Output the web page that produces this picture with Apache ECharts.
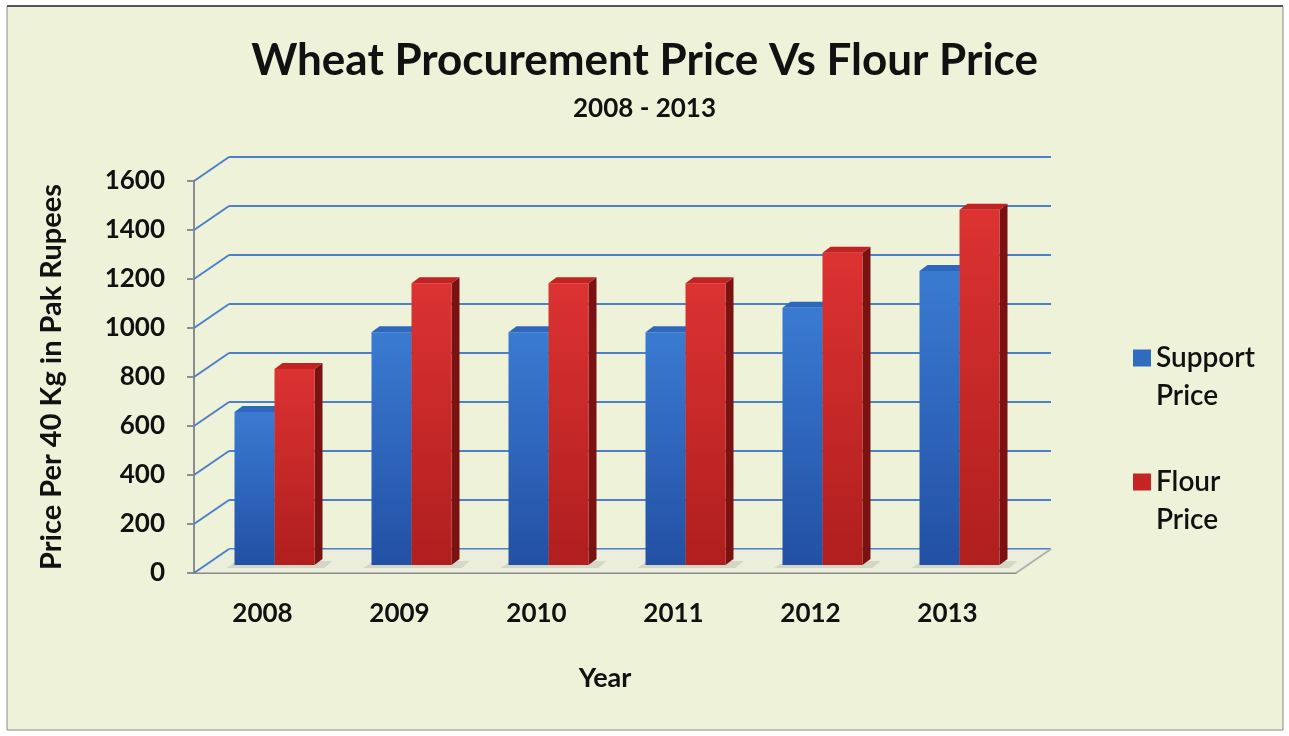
<!DOCTYPE html>
<html>
<head>
<meta charset="utf-8">
<script src="https://cdn.jsdelivr.net/npm/echarts@6/dist/echarts.min.js"></script>
<style>
html,body{margin:0;padding:0;background:#ffffff;}
#chart{width:1289px;height:736px;}
</style>
</head>
<body>
<div id="chart"></div>
<script>
// ---- data ----
const categories = ['2008', '2009', '2010', '2011', '2012', '2013'];
const supportPrice = [625, 950, 950, 950, 1050, 1200];
const flourPrice = [800, 1150, 1150, 1150, 1275, 1450];
const yTicks = [0, 200, 400, 600, 800, 1000, 1200, 1400, 1600];
const seriesNames = ['Support Price', 'Flour Price'];
const legendLabels = {'Support Price': '\u00a0\nSupport\nPrice', 'Flour Price': '\u00a0\nFlour\nPrice'};

// ---- style ----
const FONT = 'Lato';
const WALL_DX = 35, WALL_DY = -24;   // back wall offset
const BAR_DX = 12, BAR_DY = -8;      // bar front-face offset into depth
const DEP_DX = 8, DEP_DY = -6;       // bar depth
const BAR_W = 40;
const GRID_BLUE = '#4d80c9';

const chart = echarts.init(document.getElementById('chart'), null, {renderer: 'canvas'});

function barRenderer(side, colors) {
  return function (params, api) {
    const idx = api.value(0), val = api.value(1);
    const base = api.coord([idx, 0]);
    const top = api.coord([idx, val]);
    const x0 = (side === 0 ? base[0] - BAR_W : base[0]) + BAR_DX;
    const yt = top[1] + BAR_DY, yb = base[1] + BAR_DY;
    const children = [];
    if (side === 0) {
      children.push({
        type: 'polygon', silent: true,
        shape: {points: [[x0 - 8, yb + 3], [x0 + 2 * BAR_W + DEP_DX + 2, yb + 3],
                         [x0 + 2 * BAR_W + DEP_DX + 10, yb - 4], [x0 + 2, yb - 4]]},
        style: {fill: 'rgba(160,160,150,0.3)'}
      });
    }
    children.push({
      type: 'polygon',
      shape: {points: [[x0 + BAR_W, yt], [x0 + BAR_W + DEP_DX, yt + DEP_DY],
                       [x0 + BAR_W + DEP_DX, yb + DEP_DY], [x0 + BAR_W, yb]]},
      style: {fill: colors.side}
    });
    children.push({
      type: 'rect',
      shape: {x: x0, y: yt, width: BAR_W, height: yb - yt},
      style: {fill: new echarts.graphic.LinearGradient(0, 0, 0, 1, [
        {offset: 0, color: colors.top}, {offset: 1, color: colors.bottom}])}
    });
    children.push({
      type: 'polygon',
      shape: {points: [[x0, yt], [x0 + DEP_DX, yt + DEP_DY],
                       [x0 + BAR_W + DEP_DX, yt + DEP_DY], [x0 + BAR_W, yt]]},
      style: {fill: colors.cap}
    });
    return {type: 'group', children: children};
  };
}

const blue = {top: '#3a7bd2', bottom: '#2250a4', side: '#1b3d7e', cap: '#2d68bc'};
const red = {top: '#dc3232', bottom: '#b01e1e', side: '#7a1212', cap: '#c22222'};

const option = {
  animation: false,
  graphic: [
    {type: 'rect', z: -10, shape: {x: 7, y: 6, width: 1276, height: 724},
     style: {fill: '#eef2d9', stroke: '#8a8a8a', lineWidth: 1}},
    {type: 'line', z: -9, shape: {x1: 7, y1: 6, x2: 1283, y2: 6},
     style: {stroke: '#555555', lineWidth: 2}}
  ],
  title: [
    {text: 'Wheat Procurement Price Vs Flour Price', left: 'center', top: 34,
     textStyle: {fontFamily: FONT, fontWeight: 'bold', fontSize: 44, color: '#111'}},
    {text: '2008 - 2013', left: 'center', top: 91,
     textStyle: {fontFamily: FONT, fontWeight: 'bold', fontSize: 26, color: '#111'}}
  ],
  legend: {
    orient: 'vertical', left: 1128, top: 296, itemGap: 10,
    itemWidth: 18, itemHeight: 17, icon: 'rect',
    data: seriesNames,
    formatter: n => legendLabels[n],
    textStyle: {fontFamily: FONT, fontWeight: 600, fontSize: 28, color: '#111',
                lineHeight: 38}
  },
  grid: [
    {left: 194, right: 273, top: 181, bottom: 163},
    {left: 229, right: 238, top: 157, bottom: 187}
  ],
  xAxis: [
    {type: 'category', gridIndex: 0, data: categories,
     axisLine: {lineStyle: {color: '#8c8c8c', width: 2}},
     axisTick: {length: 7, lineStyle: {color: '#8c8c8c', width: 2}},
     axisLabel: {margin: 28, fontFamily: FONT, fontWeight: 'bold', fontSize: 26, color: '#111'},
     name: 'Year', nameLocation: 'middle', nameGap: 92,
     nameTextStyle: {fontFamily: FONT, fontWeight: 'bold', fontSize: 27, color: '#111'}},
    {type: 'category', gridIndex: 1, data: categories, show: false}
  ],
  yAxis: [
    {type: 'value', gridIndex: 0, min: 0, max: 1600, interval: 200,
     axisLine: {show: true, lineStyle: {color: '#8c8c8c', width: 2}},
     axisTick: {show: true, length: 7, lineStyle: {color: '#8c8c8c', width: 2}},
     splitLine: {show: false},
     axisLabel: {margin: 29, formatter: v => String(v),
                 fontFamily: FONT, fontWeight: 'bold', fontSize: 26, color: '#111'},
     name: 'Price Per 40 Kg in Pak Rupees', nameLocation: 'middle', nameGap: 128,
     nameTextStyle: {fontFamily: FONT, fontWeight: 'bold', fontSize: 29, color: '#111'}},
    {type: 'value', gridIndex: 1, min: 0, max: 1600, interval: 200,
     axisLine: {show: false}, axisTick: {show: false}, axisLabel: {show: false},
     splitLine: {show: true, lineStyle: {color: GRID_BLUE, width: 2}}}
  ],
  series: [
    {
      type: 'custom', name: 'floor', xAxisIndex: 0, yAxisIndex: 0, silent: true, z: 1,
      data: [0],
      renderItem: function (params, api) {
        const cs = params.coordSys;
        const y0 = api.coord([0, 0])[1];
        const xl = cs.x, xr = cs.x + cs.width;
        return {type: 'group', children: [
          {type: 'polygon', shape: {points: [[xl, y0], [xr, y0], [xr + WALL_DX, y0 + WALL_DY], [xl + WALL_DX, y0 + WALL_DY]]},
           style: {fill: 'rgba(232,234,222,0.5)'}},
          {type: 'line', shape: {x1: xr, y1: y0, x2: xr + WALL_DX, y2: y0 + WALL_DY},
           style: {stroke: '#b0b0b0', lineWidth: 2}}
        ]};
      }
    },
    {
      type: 'custom', name: 'connectors', xAxisIndex: 0, yAxisIndex: 0, silent: true, z: 2,
      data: yTicks,
      renderItem: function (params, api) {
        const cs = params.coordSys;
        const y = api.coord([0, api.value(0)])[1];
        return {type: 'line', shape: {x1: cs.x, y1: y, x2: cs.x + WALL_DX, y2: y + WALL_DY},
                style: {stroke: GRID_BLUE, lineWidth: 2}};
      },
      encode: {y: 0}
    },
    {
      type: 'custom', name: seriesNames[0], xAxisIndex: 0, yAxisIndex: 0, z: 5,
      itemStyle: {color: '#2f6cc0'},
      data: categories.map((c, i) => [i, supportPrice[i]]),
      encode: {x: 0, y: 1},
      renderItem: barRenderer(0, blue)
    },
    {
      type: 'custom', name: seriesNames[1], xAxisIndex: 0, yAxisIndex: 0, z: 6,
      itemStyle: {color: '#c42424'},
      data: categories.map((c, i) => [i, flourPrice[i]]),
      encode: {x: 0, y: 1},
      renderItem: barRenderer(1, red)
    }
  ]
};
chart.setOption(option);
</script>
</body>
</html>
